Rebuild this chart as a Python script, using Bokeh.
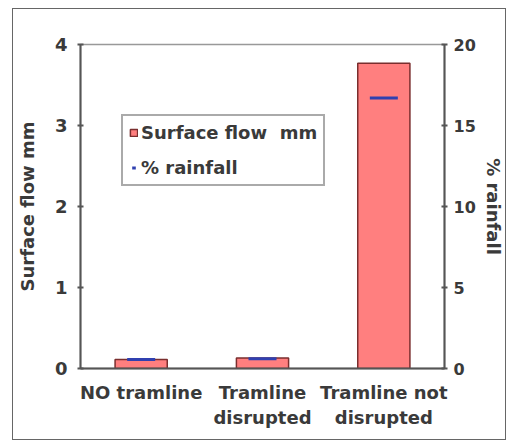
from bokeh.plotting import figure
from bokeh.models import FactorRange, Range1d, LinearAxis, Legend, LegendItem, ColumnDataSource, FixedTicker
from bokeh.embed import file_html
from bokeh.resources import INLINE

categories = ["NO tramline", "Tramline\ndisrupted", "Tramline not\ndisrupted"]
surface_flow_mm = [0.11, 0.13, 3.77]
pct_rainfall = [0.55, 0.6, 16.7]
left_ticks = [0, 1, 2, 3, 4]
right_ticks = [0, 5, 10, 15, 20]

FONT = "DejaVu Sans"
TXT = "#3a3a3a"

src = ColumnDataSource(dict(cat=categories, flow=surface_flow_mm, rain=pct_rainfall))

p = figure(x_range=FactorRange(*categories, range_padding=0), y_range=Range1d(0, 4),
           width=494, height=432, output_backend="svg", toolbar_location=None,
           min_border_left=67, min_border_right=63, min_border_top=35, min_border_bottom=73)
p.styles = {"border": "1.5px solid #666666", "box-sizing": "border-box",
            "margin-left": "12px", "margin-top": "8px"}
p.extra_y_ranges = {"rain": Range1d(0, 20)}

bars = p.vbar(x="cat", top="flow", width=0.43, source=src,
              fill_color="#FF7F7F", line_color="#7A2E2E", line_width=1.5)
marks = p.scatter(x="cat", y="rain", y_range_name="rain", source=src, marker="dash",
                  size=28, line_color="#3040B0", line_width=3)

p.xgrid.visible = False
p.ygrid.visible = False
p.outline_line_color = "#999999"
p.outline_line_width = 1.5

ax = p.yaxis[0]
ax.ticker = FixedTicker(ticks=left_ticks)
ax.axis_label = "Surface flow mm"
ax.minor_tick_line_color = None

ra = LinearAxis(y_range_name="rain", ticker=FixedTicker(ticks=right_ticks), axis_label="% rainfall")
ra.minor_tick_line_color = None
p.add_layout(ra, "right")

for a in [p.xaxis[0], ax, ra]:
    a.axis_line_color = "#555555"
    a.axis_line_width = 2
    a.major_tick_line_color = "#555555"
    a.major_tick_line_width = 2
    a.major_tick_in = 3
    a.major_tick_out = 3
    a.major_label_text_font = FONT
    a.major_label_text_font_size = "18px"
    a.major_label_text_font_style = "bold"
    a.major_label_text_color = TXT
    a.axis_label_text_font = FONT
    a.axis_label_text_font_size = "18px"
    a.axis_label_text_font_style = "bold"
    a.axis_label_text_color = TXT

p.xaxis[0].major_tick_line_color = None
p.xaxis[0].major_label_standoff = 10
ax.major_label_standoff = 10
ra.major_label_standoff = 6
ra.major_label_text_font_size = "16px"
ax.axis_label_standoff = 14
ra.axis_label_standoff = 4

legend = Legend(items=[LegendItem(label="Surface flow  mm", renderers=[bars]),
                       LegendItem(label="% rainfall", renderers=[marks])],
                location=(41, 182), label_text_font=FONT, label_text_font_size="18px",
                label_text_font_style="bold",
                label_text_color=TXT, border_line_color="#555555", border_line_width=2,
                glyph_width=9, glyph_height=9, spacing=14, padding=6, margin=0,
                label_standoff=3)
p.add_layout(legend)

open("out.html", "w").write(file_html(p, INLINE))
